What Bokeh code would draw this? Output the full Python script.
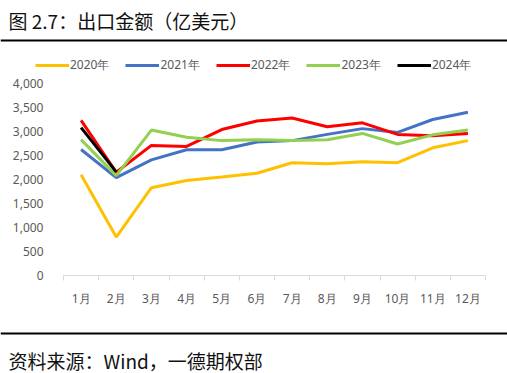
from bokeh.plotting import figure
from bokeh.layouts import column
from bokeh.models import (Range1d, FixedTicker, NumeralTickFormatter, Legend, LegendItem,
                          Span, ColumnDataSource)
from bokeh.core.properties import value
from bokeh.embed import file_html
from bokeh.resources import INLINE

months = ["1月", "2月", "3月", "4月", "5月", "6月", "7月", "8月", "9月", "10月", "11月", "12月"]
y2020 = [2100, 800, 1830, 1980, 2050, 2130, 2350, 2330, 2370, 2350, 2660, 2810]
y2021 = [2625, 2040, 2410, 2620, 2620, 2780, 2810, 2940, 3060, 2980, 3250, 3400]
y2022 = [3230, 2150, 2710, 2690, 3040, 3220, 3280, 3100, 3180, 2940, 2910, 2960]
y2023 = [2830, 2080, 3030, 2880, 2810, 2830, 2810, 2830, 2960, 2740, 2930, 3030]
y2024 = [3080, 2160]
series = [("2020年", y2020, "#FFC000"), ("2021年", y2021, "#4472C4"),
          ("2022年", y2022, "#FF0000"), ("2023年", y2023, "#92D050"),
          ("2024年", y2024, "#000000")]
yticks = [0, 500, 1000, 1500, 2000, 2500, 3000, 3500, 4000]
title_text = "图 2.7：出口金额（亿美元）"
source_text = "资料来源：Wind，一德期权部"

W = 507
FONT = "Noto Sans"
CJK = "Noto Sans CJK SC"


def banner(h, rule_y, text, text_y, size):
    f = figure(width=W, height=h, output_backend="svg", toolbar_location=None,
               x_range=Range1d(0, W), y_range=Range1d(h, 0), frame_align=False,
               min_border=0, min_border_left=0, min_border_right=0,
               min_border_top=0, min_border_bottom=0)
    f.axis.visible = False
    f.grid.visible = False
    f.outline_line_color = None
    f.add_layout(Span(location=rule_y, dimension="width", line_color="black", line_width=2))
    f.text(x=[8], y=[text_y], text=[text], text_font=value(CJK), text_font_size=size,
           text_color="#111111", text_baseline="top", text_align="left")
    return f


top = banner(75, 40, title_text, 6, "19px")
bottom = banner(53, 13, source_text, 26, "19px")

# legend lives in the top banner (same colours as the series lines); the
# proxy renderers hold a single point each so that nothing is drawn on the banner
items = []
for name, ys, color in series:
    r = top.line(x=[-100], y=[-100], line_color=color, line_width=3)
    items.append(LegendItem(label=name, renderers=[r]))
legend = Legend(items=items, orientation="horizontal", location=(35, 1),
                glyph_width=34, glyph_height=14, label_standoff=1, spacing=16,
                padding=0, margin=0, border_line_color=None, background_fill_alpha=0,
                label_text_font=FONT, label_text_font_size="12px", label_text_color="#595959")
top.add_layout(legend, "center")

MH = 245
p = figure(width=W, height=MH, output_backend="svg", toolbar_location=None, frame_align=False,
           x_range=Range1d(0.5, len(months) + 0.5), y_range=Range1d(0, 4000),
           min_border_left=63, min_border_right=22, min_border_top=8, min_border_bottom=45)
p.outline_line_color = None
p.grid.visible = False

xs = list(range(1, len(months) + 1))
p.xaxis.ticker = FixedTicker(ticks=xs, minor_ticks=[i + 0.5 for i in range(0, len(months) + 1)])
p.xaxis.major_label_overrides = {i + 1: m for i, m in enumerate(months)}
p.xaxis.axis_line_color = "#D9D9D9"
p.xaxis.major_tick_line_color = None
p.xaxis.minor_tick_line_color = "#D9D9D9"
p.xaxis.minor_tick_out = 5
p.xaxis.minor_tick_in = 0
p.xaxis.major_label_standoff = 8
p.xaxis.major_label_text_font = FONT
p.xaxis.major_label_text_font_size = "12px"
p.xaxis.major_label_text_color = "#595959"

p.yaxis.ticker = FixedTicker(ticks=yticks)
p.yaxis.formatter = NumeralTickFormatter(format="0,0")
p.yaxis.axis_line_color = None
p.yaxis.major_tick_line_color = None
p.yaxis.minor_tick_line_color = None
p.yaxis.major_label_standoff = 14
p.yaxis.major_label_text_font = FONT
p.yaxis.major_label_text_font_size = "12px"
p.yaxis.major_label_text_color = "#595959"

for name, ys, color in series:
    src = ColumnDataSource(dict(x=xs[:len(ys)], y=ys))
    p.line("x", "y", source=src, line_color=color, line_width=3)

layout = column(top, p, bottom, spacing=0)
open("out.html", "w").write(file_html(layout, INLINE))
